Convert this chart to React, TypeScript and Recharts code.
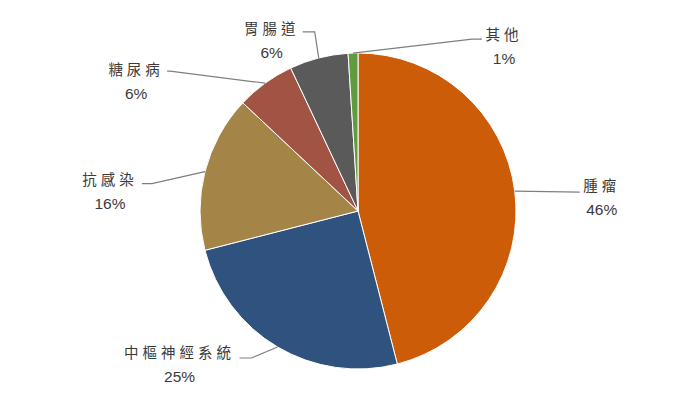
import React from "react";
import { PieChart, Pie, Cell } from "recharts";

const categories = ["腫瘤", "中樞神經系統", "抗感染", "糖尿病", "胃腸道", "其他"];
const shares = [46, 25, 16, 6, 6, 1];
const colors = ["#CD5C08", "#30527E", "#A58447", "#A15444", "#5A5A5A", "#5E9C3F"];

// leader line bends and label centre, as offsets from the slice edge point
const leaderBends: number[][][] = [
  [[65, 1]],
  [[-26, 11], [-38, 11]],
  [[-53, 12], [-63, 12]],
  [[-95, -12], [-98, -12]],
  [[-4, -26], [-16, -26]],
  [[119, -14], [129, -14]],
];
const labelOffsets: number[][] = [
  [87, -7],
  [-98, 5],
  [-95, 7],
  [-129, -15],
  [-47, -30],
  [151, -20],
];

const data = categories.map((name, i) => ({ name, value: shares[i] }));
const RAD = Math.PI / 180;

function renderLabel(props: any) {
  const { cx, cy, midAngle, outerRadius, index, name, value } = props;
  const ex = cx + outerRadius * Math.cos(-midAngle * RAD);
  const ey = cy + outerRadius * Math.sin(-midAngle * RAD);
  const pts = [[ex, ey], ...leaderBends[index].map(([dx, dy]) => [ex + dx, ey + dy])];
  const [tx, ty] = labelOffsets[index];
  return (
    <g>
      <polyline
        points={pts.map((p) => p.join(",")).join(" ")}
        fill="none"
        stroke="#7f7f7f"
        strokeWidth={1.2}
      />
      <text
        x={ex + tx}
        y={ey + ty}
        textAnchor="middle"
        dominantBaseline="central"
        fontSize={14.5}
        letterSpacing={4}
        fill="#3a3a3a"
        fontFamily="'Noto Sans CJK TC', sans-serif"
      >
        {name}
      </text>
      <text
        x={ex + tx}
        y={ey + ty + 25}
        textAnchor="middle"
        dominantBaseline="central"
        fontSize={15.5}
        fill="#3a3a3a"
        fontFamily="'Liberation Sans', sans-serif"
      >
        {value}%
      </text>
    </g>
  );
}

export default function App() {
  return (
    <div style={{ position: "absolute", left: 0, top: 0, width: 681, height: 408, background: "#fff" }}>
      <PieChart width={681} height={408} margin={{ top: 0, right: 0, bottom: 0, left: 0 }}>
        <Pie
          data={data}
          dataKey="value"
          nameKey="name"
          cx={358}
          cy={211}
          outerRadius={158}
          startAngle={90}
          endAngle={-270}
          stroke="#ffffff"
          strokeWidth={1}
          label={renderLabel}
          labelLine={false}
          isAnimationActive={false}
        >
          {data.map((d, i) => (
            <Cell key={d.name} fill={colors[i]} />
          ))}
        </Pie>
      </PieChart>
    </div>
  );
}
